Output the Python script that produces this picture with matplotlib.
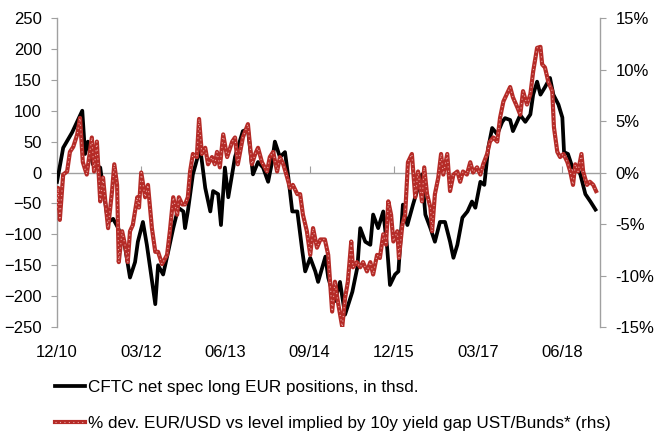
import numpy as np
import matplotlib
matplotlib.use('Agg')
import matplotlib.pyplot as plt
from matplotlib.lines import Line2D
from matplotlib.ticker import FuncFormatter

plt.rcParams['font.family'] = ['Liberation Sans', 'DejaVu Sans']

# CFTC net spec long EUR positions (thsd), time in months since Dec 2010
cftc_t = [0, 1.1, 2.7, 4.5, 5.0, 5.5, 6.4, 7.7, 8.2, 9.1,
          10.0, 10.9, 12.1, 13.0, 13.9, 14.4, 15.3, 16.0, 16.6, 17.5,
          18.0, 18.9, 19.8, 20.7, 21.6, 22.5, 22.8, 23.3, 24.2, 25.5,
          26.4, 27.3, 27.8, 28.7, 29.2, 29.9, 30.5, 31.7, 33.1, 34.0,
          34.9, 35.8, 36.7, 37.6, 38.3, 38.8, 39.7, 40.6, 41.2, 41.9,
          42.8, 43.7, 44.2, 45.1, 46.0, 46.5, 47.8, 48.3, 49.5, 50.4,
          51.3, 52.6, 53.5, 54.0, 54.9, 55.8, 56.3, 57.2, 58.1, 58.8,
          59.3, 60.2, 60.8, 61.6, 62.4, 63.4, 65.0, 65.6, 66.5, 67.3,
          68.2, 69.1, 70.0, 70.6, 71.3, 72.2, 73.1, 73.9, 74.5, 75.4,
          76.1, 76.8, 77.5, 78.4, 79.3, 79.8, 80.7, 81.2, 82.5, 83.4,
          84.3, 84.8, 85.5, 86.1, 86.9, 87.8, 88.4, 89.3, 90.0, 90.3,
          91.0, 91.8, 92.6, 93.2, 94.1, 95.0, 95.9]
cftc_v = [-15, 40, 65, 100, 30, 50, 13, 8, -25, -80,
          -75, -90, -120, -170, -145, -112, -80, -117, -155, -213,
          -150, -165, -128, -90, -57, -63, -90, -63, -3, 40,
          -25, -63, -30, -35, -85, 8, -40, 25, 67, 70,
          -3, 17, 8, -15, 17, 50, 25, 33, -8, -63,
          -63, -128, -160, -138, -160, -177, -136, -170, -208, -177,
          -230, -193, -153, -90, -112, -117, -68, -90, -63, -122,
          -182, -165, -160, -52, -85, -52, -3, -68, -90, -112,
          -80, -80, -112, -138, -117, -73, -63, -47, -57, -15,
          -20, 40, 72, 62, 82, 88, 85, 67, 93, 82,
          94, 126, 147, 126, 138, 153, 126, 110, 89, 33,
          30, 8, 8, -3, -35, -47, -60]

# % dev. EUR/USD vs level implied by 10y yield gap (rhs, %)
dev_t = [0, 0.2, 0.5, 1.1, 1.8, 2.3, 2.9, 3.6, 4.1, 4.6,
         5.3, 6.2, 6.6, 7.1, 7.7, 8.2, 8.6, 9.1, 9.8, 10.2,
         10.7, 11.0, 11.6, 12.1, 12.6, 13.0, 13.5, 14.3, 14.6, 15.0,
         15.7, 16.2, 16.9, 17.5, 18.0, 18.7, 19.6, 20.1, 20.7, 21.4,
         21.7, 22.3, 22.8, 23.3, 23.7, 24.2, 24.9, 25.3, 25.8, 26.4,
         26.9, 27.6, 28.1, 28.5, 29.0, 29.6, 30.3, 31.2, 31.7, 32.2,
         33.1, 34.0, 34.7, 35.3, 35.8, 36.5, 37.4, 37.9, 38.5, 39.2,
         39.7, 40.3, 41.0, 41.5, 42.0, 42.8, 43.3, 43.8, 44.5, 45.1,
         45.6, 46.3, 46.9, 47.7, 48.3, 49.0, 49.5, 50.1, 50.8, 51.3,
         51.8, 52.4, 52.7, 53.4, 54.0, 54.5, 55.2, 55.8, 56.3, 57.0,
         57.5, 58.1, 58.6, 59.0, 59.5, 59.9, 60.6, 60.9, 61.5, 62.0,
         62.5, 63.2, 63.8, 64.3, 65.0, 65.4, 65.9, 66.5, 66.8, 67.3,
         67.9, 68.4, 68.8, 69.5, 70.0, 70.6, 71.3, 71.8, 72.3, 73.0,
         73.6, 74.1, 74.8, 75.4, 75.9, 76.6, 77.1, 77.7, 78.4, 78.9,
         79.5, 80.7, 81.2, 82.0, 82.5, 83.0, 83.7, 84.3, 84.8, 85.5,
         86.1, 86.4, 86.9, 87.5, 88.2, 88.5, 89.1, 89.6, 90.2, 90.9,
         91.4, 91.9, 92.3, 92.8, 93.4, 93.7, 94.4, 94.9, 95.5, 96.0]
dev_pct = [-3.4, -1.5, -4.6, -0.2, 0.1, 2.0, 2.5, 3.7, 5.3, 1.0,
           -0.2, 3.4, 0.1, 3.0, -2.8, -0.5, -2.8, -5.4, -1.8, 0.8,
           -1.2, -8.7, -5.7, -7.0, -8.7, -5.7, -5.1, -2.4, -3.4, 0.0,
           -2.4, -1.2, -5.4, -7.7, -7.7, -8.9, -8.0, -5.7, -2.4, -4.1,
           -2.4, -3.1, -3.1, -2.4, 0.1, 1.8, 1.5, 5.2, 1.8, 2.4,
           0.8, 1.5, 0.8, 2.0, 0.5, 3.7, 1.5, 3.0, 3.4, 0.8,
           3.4, 4.7, 0.8, 1.8, 2.4, 1.0, 0.1, 1.5, 2.0, 0.1,
           1.5, 0.8, -0.5, -1.5, -1.2, -2.1, -2.1, -4.1, -5.7, -8.0,
           -5.4, -7.3, -6.5, -6.5, -8.0, -13.5, -10.6, -12.8, -15.0, -12.2,
           -10.6, -6.7, -9.2, -8.7, -9.2, -8.7, -9.6, -8.7, -9.9, -8.0,
           -8.3, -6.0, -7.0, -2.8, -4.1, -6.7, -5.7, -8.3, -5.1, -4.1,
           1.0, 1.8, -2.4, 0.1, -2.8, 0.5, -2.1, -3.4, -5.7, -2.1,
           -0.5, 1.8, -0.2, 1.8, -1.8, -0.2, 0.1, -0.9, 0.1, -0.2,
           1.0, 0.0, 0.5, -0.2, 0.8, 1.8, 3.0, 3.4, 3.0, 5.3,
           6.9, 8.3, 7.3, 6.3, 5.6, 7.9, 6.6, 7.6, 9.8, 12.1,
           12.2, 10.5, 10.2, 8.8, 7.9, 4.4, 2.0, 1.5, 1.8, 1.0,
           0.1, -1.2, 0.8, 0.1, 1.8, 0.1, -1.2, -0.9, -1.2, -1.8]

tick_pos = [0, 15, 30, 45, 60, 75, 90]
tick_labels = ['12/10', '03/12', '06/13', '09/14', '12/15', '03/17', '06/18']

black = '#000000'
red = '#B52B27'
dot = '#E9A7A5'
grey = '#A0A0A0'

fig = plt.figure(figsize=(6.56, 4.34), dpi=100)
ax = fig.add_axes([0.0869, 0.2465, 0.8277, 0.712])
ax2 = ax.twinx()

ax.plot(cftc_t, cftc_v, color=black, lw=2.7, solid_joinstyle='round', zorder=3)
# red series: thick red line with a light dotted core
ax2.plot(dev_t, dev_pct, color=red, lw=3.0, solid_joinstyle='round', zorder=3)
ax2.plot(dev_t, dev_pct, color=dot, lw=0.8, ls=(0, (1, 3)), zorder=4)

ax.set_xlim(0, 96.7)
ax.set_ylim(-250, 250)
ax.set_yticks(np.arange(-250, 251, 50))
ax2.set_ylim(-15, 15)
ax2.set_yticks(np.arange(-15, 16, 5))
ax2.yaxis.set_major_formatter(FuncFormatter(lambda v, p: f'{v:.0f}%'))

ax.set_xticks(tick_pos)
ax.set_xticklabels(tick_labels)

for a in (ax, ax2):
    a.spines['top'].set_visible(False)
    for s in ('left', 'right', 'bottom'):
        a.spines[s].set_color(grey)
        a.spines[s].set_linewidth(1.0)
ax.spines['right'].set_visible(False)
ax2.spines['left'].set_visible(False)
ax2.spines['bottom'].set_visible(False)
ax.spines['bottom'].set_position(('data', 0))

ax.tick_params(axis='y', direction='out', length=4, color=grey, labelsize=12, pad=7)
ax2.tick_params(axis='y', direction='out', length=4, color=grey, labelsize=12, pad=7)
ax.tick_params(axis='x', direction='in', length=5, color=grey, labelsize=12, pad=124)

handles = [Line2D([], [], color=black, lw=2.7),
           (Line2D([], [], color=red, lw=3.0),
            Line2D([], [], color=dot, lw=0.8, ls=(0, (1, 3))))]
labels = ['CFTC net spec long EUR positions, in thsd.',
          '% dev. EUR/USD vs level implied by 10y yield gap UST/Bunds* (rhs)']
fig.legend(handles, labels, loc='upper left', bbox_to_anchor=(0.074, 0.14),
           frameon=False, fontsize=12.3, handlelength=1.75, handletextpad=0.15,
           labelspacing=1.25, borderaxespad=0)

fig.savefig('out.png', dpi=100)
